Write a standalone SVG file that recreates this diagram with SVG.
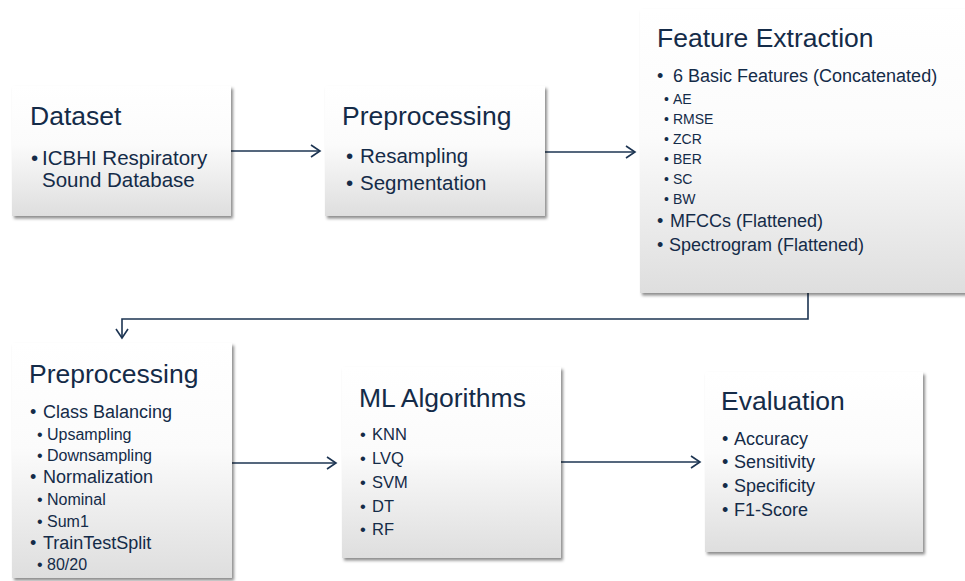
<svg xmlns="http://www.w3.org/2000/svg" width="965" height="581" viewBox="0 0 965 581">
  <defs>
    <linearGradient id="boxFill" x1="0" y1="0" x2="0" y2="1">
      <stop offset="0" stop-color="#ffffff"/>
      <stop offset="0.45" stop-color="#fbfbfb"/>
      <stop offset="1" stop-color="#dedede"/>
    </linearGradient>
    <filter id="shadow" x="-10%" y="-10%" width="130%" height="130%">
      <feDropShadow dx="2" dy="2.5" stdDeviation="1.6" flood-color="#000" flood-opacity="0.45"/>
    </filter>
    <marker id="arrow" markerWidth="14" markerHeight="14" refX="11" refY="7" orient="auto" markerUnits="userSpaceOnUse">
      <path d="M2,1 L11,7 L2,13" fill="none" stroke="#1c3452" stroke-width="1.6"/>
    </marker>
  </defs>
  <style>
    .box { fill: url(#boxFill); filter: url(#shadow); }
    text { font-family: "Liberation Sans", Arial, sans-serif; fill: #142b48; }
    .title { font-size: 26.5px; }
    .item { font-size: 20.5px; }
    .item18 { font-size: 18px; }
    .item16 { font-size: 16.5px; }
    .sub14 { font-size: 14px; }
    .sub16 { font-size: 16px; }
    .conn { fill: none; stroke: #1c3452; stroke-width: 1.6; marker-end: url(#arrow); }
  </style>
  <rect width="965" height="581" fill="#ffffff"/>

  <g id="connectors">
    <path class="conn" d="M231,151 H320"/>
    <path class="conn" d="M545,152 H635"/>
    <path class="conn" d="M808,293 V319 H122 V338"/>
    <path class="conn" d="M232,463 H336"/>
    <path class="conn" d="M561,462 H700"/>
  </g>

  <g id="dataset">
    <rect class="box" x="12" y="86" width="219" height="130"/>
    <text class="title" x="30" y="125">Dataset</text>
    <text class="item" x="31" y="165">•</text>
    <text class="item" x="42" y="165">ICBHI Respiratory</text>
    <text class="item" x="42" y="187">Sound Database</text>
  </g>

  <g id="preprocessing-signal">
    <rect class="box" x="325" y="86" width="220" height="130"/>
    <text class="title" x="342" y="125">Preprocessing</text>
    <text class="item" x="346" y="163">•</text>
    <text class="item" x="360" y="163">Resampling</text>
    <text class="item" x="346" y="190">•</text>
    <text class="item" x="360" y="190">Segmentation</text>
  </g>

  <g id="feature-extraction">
    <rect class="box" x="640" y="9" width="330" height="284"/>
    <text class="title" x="657" y="47">Feature Extraction</text>
    <text class="item18" x="657" y="82">•</text>
    <text class="item18" x="673" y="82">6 Basic Features (Concatenated)</text>
    <text class="sub14" x="664" y="104">•</text>
    <text class="sub14" x="673" y="104">AE</text>
    <text class="sub14" x="664" y="124">•</text>
    <text class="sub14" x="673" y="124">RMSE</text>
    <text class="sub14" x="664" y="144">•</text>
    <text class="sub14" x="673" y="144">ZCR</text>
    <text class="sub14" x="664" y="164">•</text>
    <text class="sub14" x="673" y="164">BER</text>
    <text class="sub14" x="664" y="184">•</text>
    <text class="sub14" x="673" y="184">SC</text>
    <text class="sub14" x="664" y="204">•</text>
    <text class="sub14" x="673" y="204">BW</text>
    <text class="item18" x="657" y="227">•</text>
    <text class="item18" x="670" y="227">MFCCs (Flattened)</text>
    <text class="item18" x="657" y="251">•</text>
    <text class="item18" x="669" y="251">Spectrogram (Flattened)</text>
  </g>

  <g id="preprocessing-data">
    <rect class="box" x="12" y="343" width="220" height="235"/>
    <text class="title" x="29" y="383">Preprocessing</text>
    <text class="item18" x="30" y="418">•</text>
    <text class="item18" x="43" y="418">Class Balancing</text>
    <text class="sub16" x="37" y="440">•</text>
    <text class="sub16" x="47" y="440">Upsampling</text>
    <text class="sub16" x="37" y="461">•</text>
    <text class="sub16" x="47" y="461">Downsampling</text>
    <text class="item18" x="30" y="483">•</text>
    <text class="item18" x="43" y="483">Normalization</text>
    <text class="sub16" x="37" y="505">•</text>
    <text class="sub16" x="47" y="505">Nominal</text>
    <text class="sub16" x="37" y="527">•</text>
    <text class="sub16" x="47" y="527">Sum1</text>
    <text class="item18" x="30" y="549">•</text>
    <text class="item18" x="43" y="549">TrainTestSplit</text>
    <text class="sub16" x="37" y="570">•</text>
    <text class="sub16" x="47" y="570">80/20</text>
  </g>

  <g id="ml-algorithms">
    <rect class="box" x="342" y="367" width="219" height="191"/>
    <text class="title" x="359" y="407">ML Algorithms</text>
    <text class="item16" x="360" y="440">•</text>
    <text class="item16" x="372" y="440">KNN</text>
    <text class="item16" x="360" y="464">•</text>
    <text class="item16" x="372" y="464">LVQ</text>
    <text class="item16" x="360" y="488">•</text>
    <text class="item16" x="372" y="488">SVM</text>
    <text class="item16" x="360" y="512">•</text>
    <text class="item16" x="372" y="512">DT</text>
    <text class="item16" x="360" y="535">•</text>
    <text class="item16" x="372" y="535">RF</text>
  </g>

  <g id="evaluation">
    <rect class="box" x="705" y="372" width="218" height="180"/>
    <text class="title" x="721" y="410">Evaluation</text>
    <text class="item18" x="722" y="445">•</text>
    <text class="item18" x="734" y="445">Accuracy</text>
    <text class="item18" x="722" y="468">•</text>
    <text class="item18" x="734" y="468">Sensitivity</text>
    <text class="item18" x="722" y="492">•</text>
    <text class="item18" x="734" y="492">Specificity</text>
    <text class="item18" x="722" y="516">•</text>
    <text class="item18" x="734" y="516">F1-Score</text>
  </g>
</svg>
